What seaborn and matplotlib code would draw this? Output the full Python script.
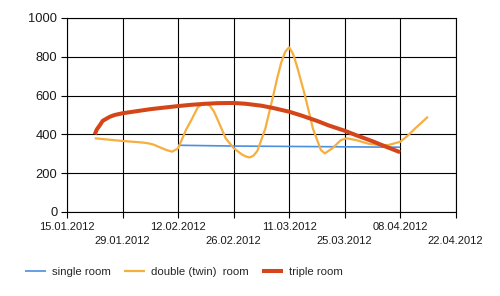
import matplotlib
matplotlib.use("Agg")
import matplotlib.pyplot as plt
import seaborn as sns
import pandas as pd

# x = days since 15.01.2012
tick_days = [0, 14, 28, 42, 56, 70, 84, 98]
tick_labels = ["15.01.2012", "29.01.2012", "12.02.2012", "26.02.2012",
               "11.03.2012", "25.03.2012", "08.04.2012", "22.04.2012"]

single_days = [28, 42, 56, 70, 84]
single_vals = [344, 340, 338, 336, 334]

double_days = [7, 10, 14, 18, 19.5, 21, 22, 23, 25, 26.5, 28, 30, 31.5, 33, 34, 35, 36, 37, 38, 40,
               42, 44, 45, 46, 47, 48, 50, 52, 53, 54, 55, 56, 57, 58, 60, 62, 64, 65,
               67, 69, 70.5, 73, 76, 79, 81, 84, 86, 88, 91]
double_vals = [380, 374, 366, 360, 357, 352, 346, 337, 320, 311, 328, 423, 480, 540, 555, 560, 548, 520, 475, 380,
               330, 298, 287, 281, 290, 315, 430, 600, 690, 770, 825, 849, 815, 750, 600, 430, 320, 302,
               330, 370, 380, 370, 352, 345, 345, 362, 395, 435, 491]

triple_days = [7, 7.5, 8.3, 9, 10.8, 12, 14, 17, 21, 24, 28, 31, 35, 38, 42, 45, 49, 52,
               56, 59, 63, 66, 70, 73, 77, 80, 84]
triple_vals = [400, 425, 448, 470, 491, 500, 509, 518, 530, 537, 546, 552, 558, 561, 562, 558, 548, 536,
               517, 498, 470, 446, 419, 395, 365, 340, 308]

series_names = ["single room", "double (twin)  room", "triple room"]
colors = ["#4A8FE0", "#F6AE3F", "#D4461A"]
widths = [1.2, 1.6, 2.9]

sns.set_style("white")
plt.rcParams['font.family'] = ['Liberation Sans', 'DejaVu Sans']

fig = plt.figure(figsize=(5.0, 2.96), dpi=100)
ax = fig.add_axes([67/500, 1 - 212/296, (455.7 - 67)/500, (212 - 18)/296])

data = [(single_days, single_vals), (double_days, double_vals), (triple_days, triple_vals)]
for (d, v), name, c, w in zip(data, series_names, colors, widths):
    df = pd.DataFrame({"day": d, "value": v})
    sns.lineplot(data=df, x="day", y="value", ax=ax, color=c, linewidth=w,
                 label=name, sort=False, legend=False,
                 solid_joinstyle="round", solid_capstyle="butt")

ax.set_xlim(0, 98)
ax.set_ylim(0, 1000)
ax.set_yticks([0, 200, 400, 600, 800, 1000])
ax.set_yticklabels(["0", "200", "400", "600", "800", "1000"], fontsize=9.3, color="#1a1a1a")
ax.set_xticks(tick_days)
ax.set_xticklabels([lab if i % 2 == 0 else "\n" + lab for i, lab in enumerate(tick_labels)],
                   fontsize=8, color="#1a1a1a", linespacing=1.55)
ax.set_xlabel("")
ax.set_ylabel("")
ax.grid(True, color="black", linewidth=0.8)
ax.set_axisbelow(True)
for s in ax.spines.values():
    s.set_color("black")
    s.set_linewidth(0.8)
ax.tick_params(axis="both", which="both", length=4, width=0.8, color="black",
               direction="out", bottom=True, left=True)
ax.tick_params(axis="y", pad=3)
ax.tick_params(axis="x", pad=3)

handles, labels = ax.get_legend_handles_labels()
fig.legend(handles, labels, loc="center left", bbox_to_anchor=(25/500, 1 - 272/296),
           ncol=3, frameon=False, fontsize=8.2, handlelength=1.8, handletextpad=0.55,
           columnspacing=1.2, borderpad=0, borderaxespad=0)

fig.savefig("out.png", dpi=100)
